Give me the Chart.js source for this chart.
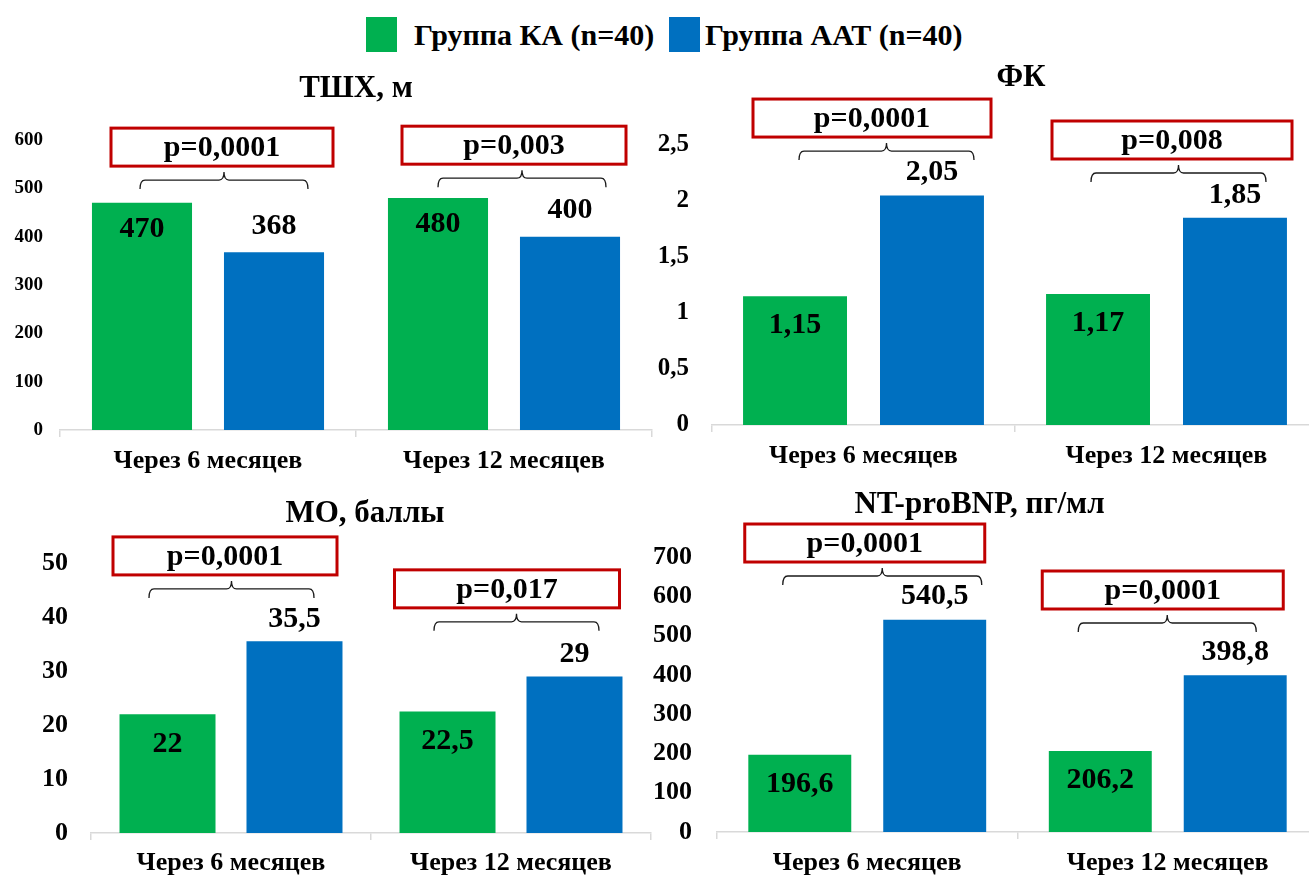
<!DOCTYPE html>
<html lang="ru">
<head>
<meta charset="utf-8">
<title>Группа КА и группа ААТ</title>
<script src="https://cdn.jsdelivr.net/npm/chart.js@4.4.1/dist/chart.umd.min.js"></script>
<style>
  html, body { margin: 0; padding: 0; background: #fff; }
  body { width: 1309px; height: 877px; overflow: hidden; position: relative;
         font-family: "Liberation Serif", "Times New Roman", serif; }
  .legend .sw { position: absolute; top: 17px; width: 31px; height: 35px; }
  .legend .lb { position: absolute; top: 20px; font-size: 30px; line-height: 30px; font-weight: bold; color: #000; white-space: nowrap; }
  .panel { position: absolute; }
</style>
</head>
<body>

<div class="legend">
  <div class="sw" id="sw0" style="left:366px"></div><div class="lb" id="lb0" style="left:414px"></div>
  <div class="sw" id="sw1" style="left:669px"></div><div class="lb" id="lb1" style="left:705px"></div>
</div>

<div class="panel" style="left:0;top:60px"><canvas id="c1" width="660" height="420"></canvas></div>
<div class="panel" style="left:650px;top:60px"><canvas id="c2" width="700" height="420"></canvas></div>
<div class="panel" style="left:0;top:480px"><canvas id="c3" width="660" height="397"></canvas></div>
<div class="panel" style="left:650px;top:480px"><canvas id="c4" width="700" height="397"></canvas></div>

<script>
// ---- data ----
const categories = ['Через 6 месяцев', 'Через 12 месяцев'];
const groupNames = ['Группа КА (n=40)', 'Группа ААТ (n=40)'];
const groupColors = ['#00B050', '#0070C0'];

const tshxKA  = [470, 480];
const tshxAAT = [368, 400];
const tshxP   = ['p=0,0001', 'p=0,003'];

const fkKA  = [1.15, 1.17];
const fkAAT = [2.05, 1.85];
const fkP   = ['p=0,0001', 'p=0,008'];

const moKA  = [22, 22.5];
const moAAT = [35.5, 29];
const moP   = ['p=0,0001', 'p=0,017'];

const bnpKA  = [196.6, 206.2];
const bnpAAT = [540.5, 398.8];
const bnpP   = ['p=0,0001', 'p=0,0001'];

const titles = ['ТШХ, м', 'ФК', 'МО, баллы', 'NT-proBNP, пг/мл'];
const yMax   = [600, 2.5, 50, 700];
const yStep  = [100, 0.5, 10, 100];

// ---- helpers ----
const FONT = '"Liberation Serif", "Times New Roman", serif';
const fmt = v => String(v).replace('.', ',');

groupNames.forEach((n, i) => {
  document.getElementById('lb' + i).textContent = n;
  document.getElementById('sw' + i).style.background = groupColors[i];
});

function brace(ctx, x1, x2, y, down, up) {
  const xm = (x1 + x2) / 2, r = 5;
  ctx.beginPath();
  ctx.moveTo(x1, y + down);
  ctx.quadraticCurveTo(x1, y, x1 + r, y);
  ctx.lineTo(xm - r, y);
  ctx.quadraticCurveTo(xm, y, xm, y - up);
  ctx.quadraticCurveTo(xm, y, xm + r, y);
  ctx.lineTo(x2 - r, y);
  ctx.quadraticCurveTo(x2, y, x2, y + down);
  ctx.stroke();
}

// Value labels, panel title and p-value brackets drawn on top of the bars
function overlay(p) {
  return {
    id: 'overlay',
    afterDatasetsDraw(chart) {
      const ctx = chart.ctx, xs = chart.scales.x, ys = chart.scales.y, ca = chart.chartArea;
      ctx.save();
      ctx.fillStyle = '#000';
      ctx.textAlign = 'center';
      ctx.textBaseline = 'middle';
      ctx.font = 'bold 30px ' + FONT;
      chart.data.datasets.forEach((ds, di) => {
        chart.getDatasetMeta(di).data.forEach((bar, i) => {
          const y = di === 0 ? bar.y + p.inside : bar.y - p.above;
          ctx.fillText(fmt(ds.data[i]), bar.x, y);
        });
      });

      ctx.font = 'bold 31px ' + FONT;
      ctx.textBaseline = 'alphabetic';
      ctx.fillText(p.title, (ca.left + ca.right) / 2 + p.titleDx, p.titleY);

      p.marks.forEach((m, i) => {
        const cx = xs.getPixelForValue(i);
        const yl = ys.getPixelForValue(m.level);
        ctx.strokeStyle = '#1a1a1a';
        ctx.lineWidth = 1.3;
        brace(ctx, cx + m.bx1, cx + m.bx2, yl, 9, 8);
        const bw = m.boxW, bh = 38, bx = cx + m.boxDx - bw / 2, by = yl - 14 - bh;
        ctx.strokeStyle = '#C00000';
        ctx.lineWidth = 3;
        ctx.strokeRect(bx, by, bw, bh);
        ctx.font = 'bold 30px ' + FONT;
        ctx.textBaseline = 'middle';
        ctx.fillText(p.pText[i], cx + m.boxDx, by + bh / 2 + 1);
      });
      ctx.restore();
    }
  };
}

function makePanel(id, ka, aat, idx, p) {
  new Chart(document.getElementById(id), {
    type: 'bar',
    data: {
      labels: categories,
      datasets: [
        { label: groupNames[0], data: ka,  backgroundColor: groupColors[0] },
        { label: groupNames[1], data: aat, backgroundColor: groupColors[1] }
      ]
    },
    options: {
      responsive: false,
      animation: false,
      devicePixelRatio: 1,
      events: [],
      categoryPercentage: p.cat,
      barPercentage: p.bar,
      layout: { padding: { left: 0, top: p.padT, right: p.padR, bottom: 0 } },
      plugins: { legend: { display: false }, tooltip: { enabled: false }, title: { display: false } },
      scales: {
        x: {
          grid: { offset: true, drawOnChartArea: false, drawTicks: true, tickLength: 7, color: '#d9d9d9', lineWidth: 1.5 },
          border: { display: true, color: '#d9d9d9', width: 1.5 },
          ticks: { color: '#000', font: { family: FONT, size: p.catFont, weight: 'bold' }, padding: p.catPad, maxRotation: 0, autoSkip: false },
          afterFit: s => { s.height = p.xH; }
        },
        y: {
          min: 0, max: yMax[idx],
          grid: { display: false, drawTicks: false },
          border: { display: false },
          ticks: { stepSize: yStep[idx], color: '#000', padding: p.tickPad,
                   font: { family: FONT, size: p.tickFont, weight: 'bold' },
                   callback: v => fmt(v) },
          afterFit: s => { s.width = p.yW; }
        }
      }
    },
    plugins: [overlay(Object.assign({ title: titles[idx] }, p))]
  });
}

makePanel('c1', tshxKA, tshxAAT, 0, {
  padT: 80, padR: 8, xH: 50, yW: 60, tickFont: 19, tickPad: 17, catFont: 26, catPad: 9,
  cat: 0.892, bar: 0.758, titleDx: 0, titleY: 37, inside: 26, above: 26, pText: tshxP,
  marks: [ { level: 517, bx1: -68, bx2: 100, boxDx: 14, boxW: 222 },
           { level: 521, bx1: -66, bx2: 102, boxDx: 10, boxW: 224 } ]
});
makePanel('c2', fkKA, fkAAT, 1, {
  padT: 85, padR: 32, xH: 55, yW: 62, tickFont: 25, tickPad: 23, catFont: 26, catPad: 9,
  cat: 0.904, bar: 0.759, titleDx: 6, titleY: 26, inside: 29, above: 23, pText: fkP,
  marks: [ { level: 2.446, bx1: -64.5, bx2: 110.5, boxDx: 8.5, boxW: 238 },
           { level: 2.25,  bx1: -75.5, bx2: 99.5,  boxDx: 5.5, boxW: 240 } ]
});
makePanel('c3', moKA, moAAT, 2, {
  padT: 83, padR: 9, xH: 44, yW: 91, tickFont: 26, tickPad: 23, catFont: 26, catPad: 8,
  cat: 0.907, bar: 0.756, titleDx: -6, titleY: 42, inside: 30, above: 22, pText: moP,
  marks: [ { level: 45.2, bx1: -82, bx2: 83, boxDx: -6, boxW: 224 },
           { level: 39.1, bx1: -77, bx2: 88, boxDx: -4, boxW: 225 } ]
});
makePanel('c4', bnpKA, bnpAAT, 3, {
  padT: 77, padR: 32, xH: 45, yW: 67, tickFont: 26, tickPad: 25, catFont: 26, catPad: 9,
  cat: 0.898, bar: 0.763, titleDx: -38, titleY: 33, inside: 29, above: 23, pText: bnpP,
  marks: [ { level: 651.6, bx1: -84.5, bx2: 114.5, boxDx: -2.5, boxW: 240 },
           { level: 532,   bx1: -89.5, bx2: 88.5,  boxDx: -5,   boxW: 241 } ]
});
</script>
</body>
</html>
